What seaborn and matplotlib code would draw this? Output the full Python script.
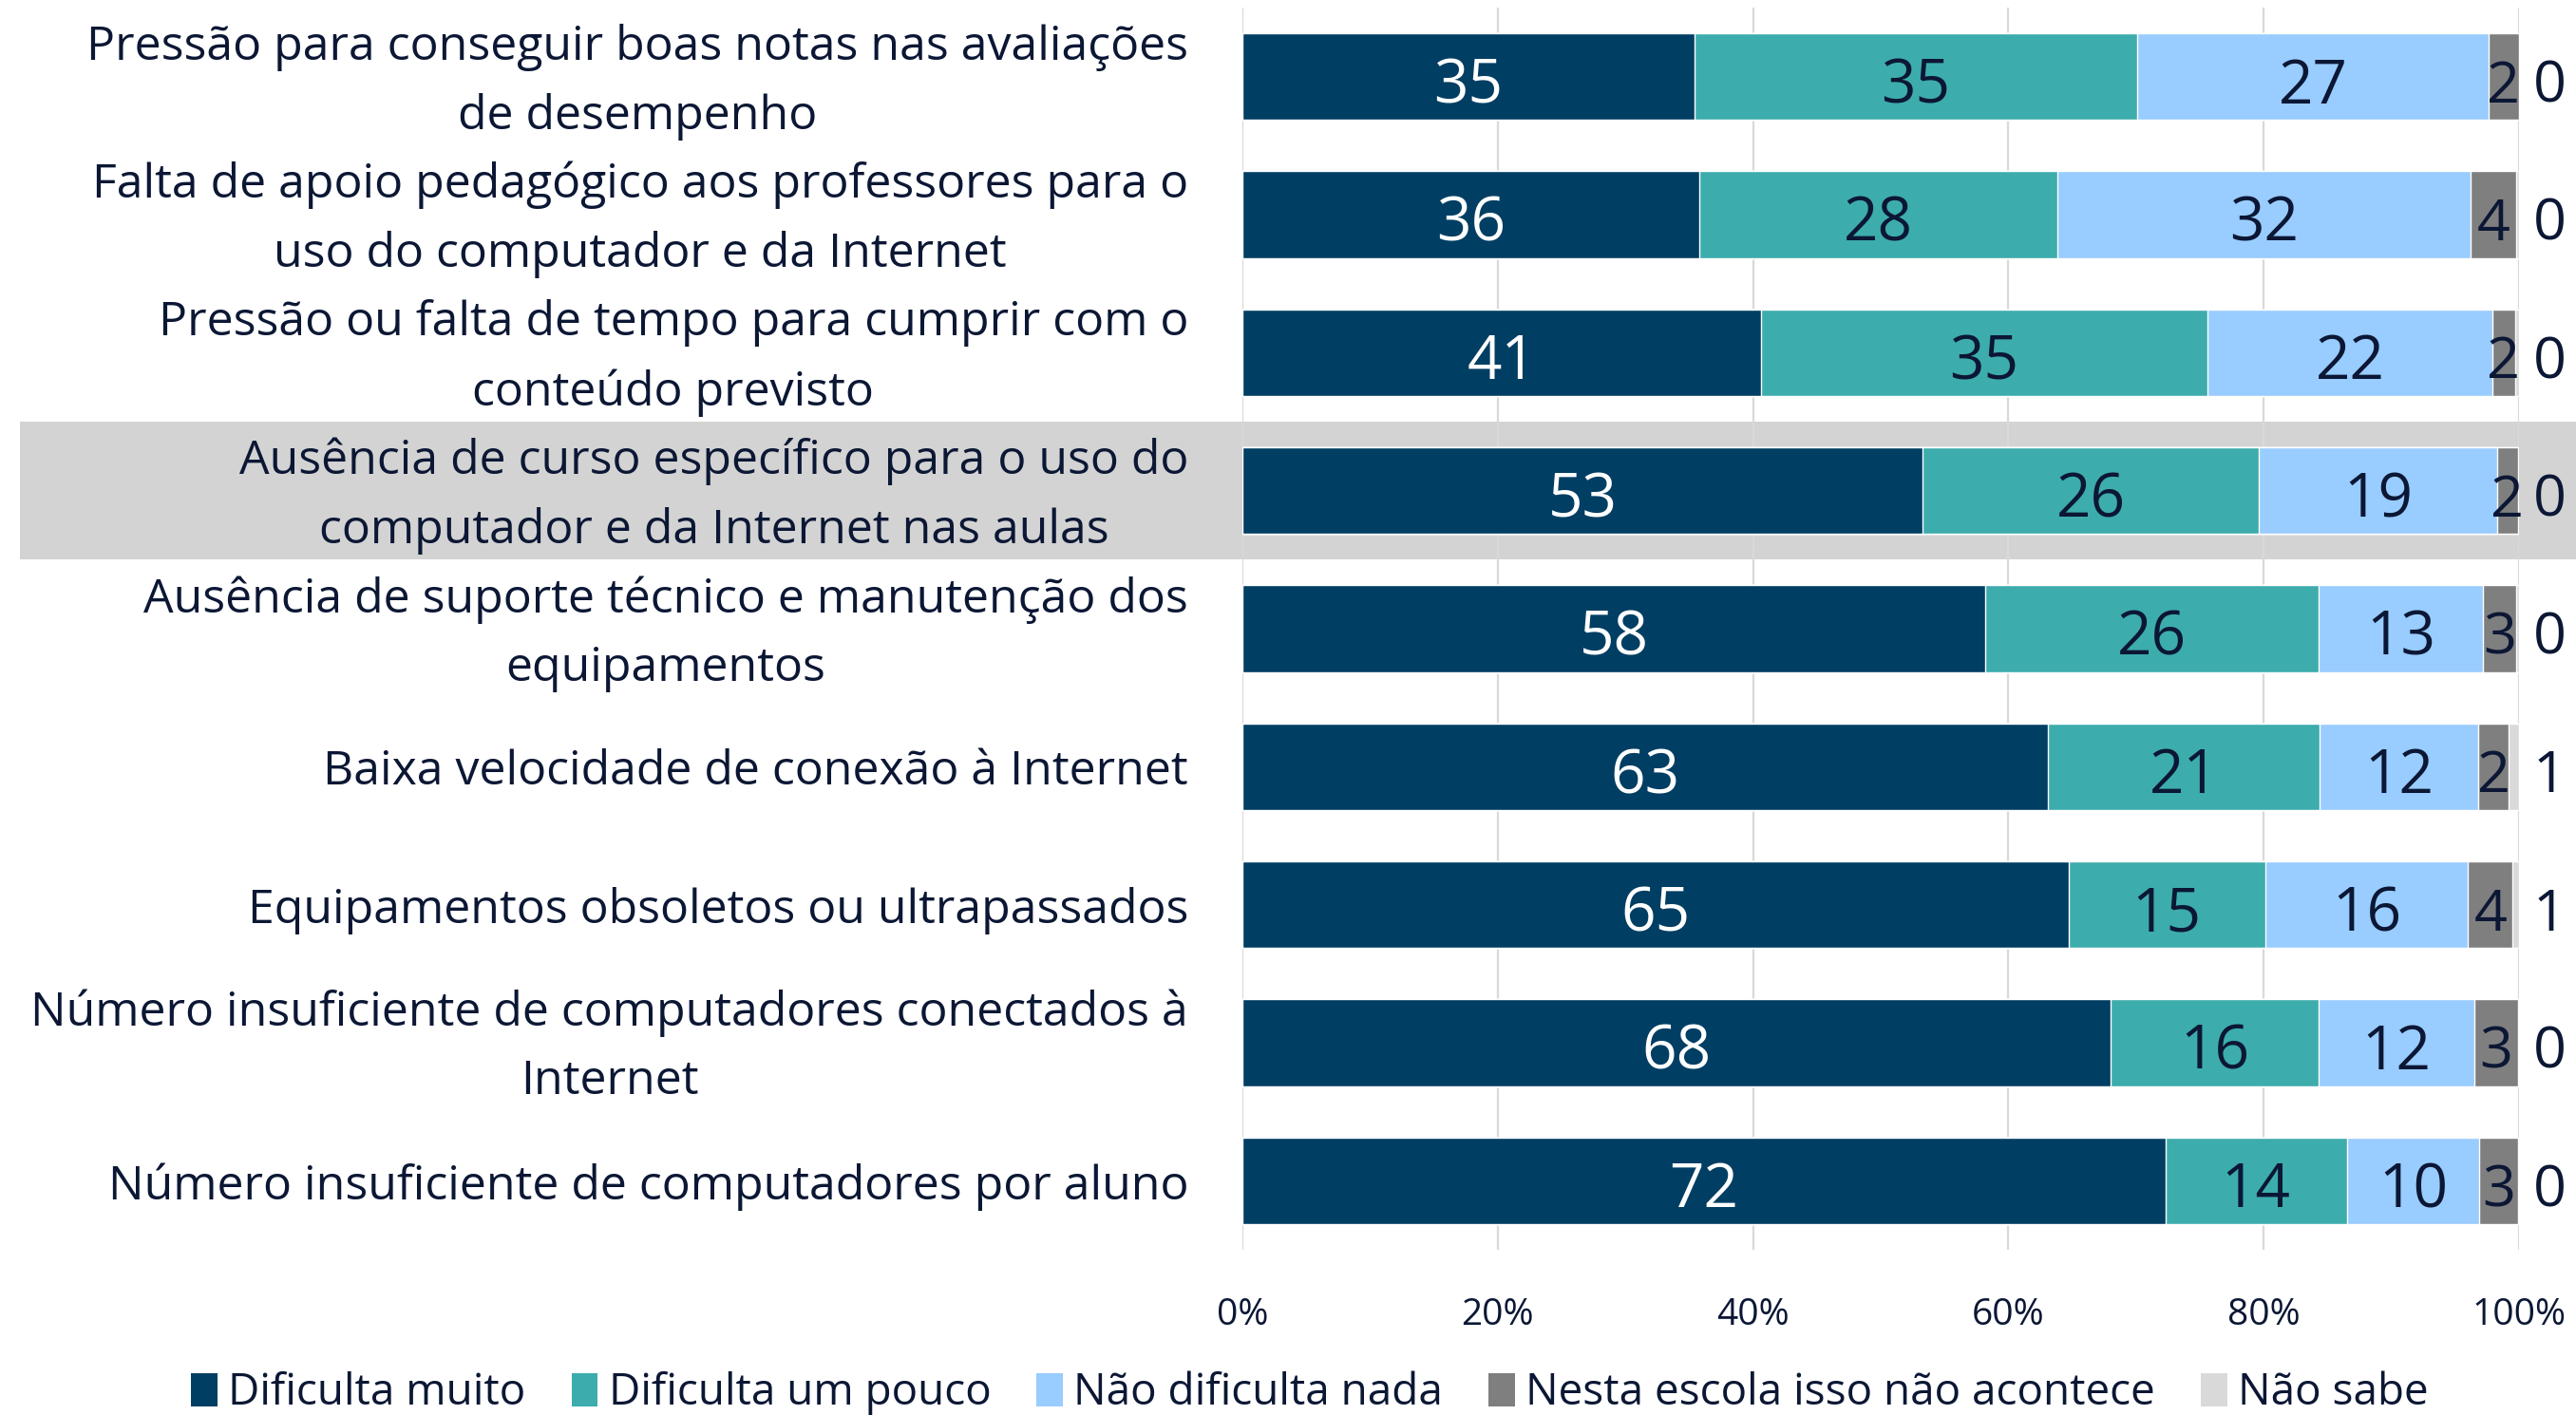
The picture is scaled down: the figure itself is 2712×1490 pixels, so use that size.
import matplotlib
matplotlib.use('Agg')
import numpy as np
import pandas as pd
import seaborn as sns
import matplotlib.pyplot as plt
from matplotlib.patches import Patch, Rectangle
from matplotlib import transforms

# categories (top to bottom)
categories = [
    'Pressão para conseguir boas notas nas avaliações\nde desempenho',
    'Falta de apoio pedagógico aos professores para o\nuso do computador e da Internet',
    'Pressão ou falta de tempo para cumprir com o\nconteúdo previsto',
    'Ausência de curso específico para o uso do\ncomputador e da Internet nas aulas',
    'Ausência de suporte técnico e manutenção dos\nequipamentos',
    'Baixa velocidade de conexão à Internet',
    'Equipamentos obsoletos ou ultrapassados',
    'Número insuficiente de computadores conectados à\nInternet',
    'Número insuficiente de computadores por aluno',
]
series_names = ['Dificulta muito', 'Dificulta um pouco', 'Não dificulta nada',
                'Nesta escola isso não acontece', 'Não sabe']

# segment widths (%)
dificulta_muito = [35.4, 35.8, 40.6, 53.3, 58.2, 63.1, 64.7, 68.0, 72.3]
dificulta_pouco = [34.7, 28.0, 35.0, 26.3, 26.1, 21.3, 15.4, 16.3, 14.2]
nao_dificulta = [27.5, 32.4, 22.3, 18.7, 12.9, 12.4, 15.9, 12.2, 10.4]
nao_acontece = [2.4, 3.6, 1.8, 1.6, 2.6, 2.4, 3.5, 3.4, 3.0]
nao_sabe = [0.0, 0.2, 0.3, 0.1, 0.2, 0.8, 0.5, 0.1, 0.1]

# printed labels
lbl_muito = [35, 36, 41, 53, 58, 63, 65, 68, 72]
lbl_pouco = [35, 28, 35, 26, 26, 21, 15, 16, 14]
lbl_nada = [27, 32, 22, 19, 13, 12, 16, 12, 10]
lbl_acontece = [2, 4, 2, 2, 3, 2, 4, 3, 3]
lbl_sabe = [0, 0, 0, 0, 0, 1, 1, 0, 0]

colors = ['#013E63', '#3DACAC', '#99CCFF', '#7F7F7F', '#D9D9D9']
text_dark = '#0B1734'
highlight = 3

df = pd.DataFrame({
    'cat': categories,
    'Dificulta muito': dificulta_muito,
    'Dificulta um pouco': dificulta_pouco,
    'Não dificulta nada': nao_dificulta,
    'Nesta escola isso não acontece': nao_acontece,
    'Não sabe': nao_sabe,
})
cum = df[series_names].cumsum(axis=1)
labels = [lbl_muito, lbl_pouco, lbl_nada, lbl_acontece, lbl_sabe]

sns.set_style('white')
plt.rcParams['font.family'] = ['Open Sans', 'DejaVu Sans']

fig = plt.figure(figsize=(27.12, 14.9), dpi=100)
ax = fig.add_axes([0.4823, 0.1168, 0.4956, 0.8778])
ax.set_facecolor('none')

# stacked bars: draw cumulative totals from the largest down
for i in range(len(series_names) - 1, -1, -1):
    plot_df = pd.DataFrame({'cat': categories, 'val': cum[series_names[i]]})
    sns.barplot(data=plot_df, x='val', y='cat', color=colors[i], saturation=1,
                width=0.63, orient='h', ax=ax, zorder=2)

# value labels
for i, name in enumerate(series_names):
    for j in range(len(categories)):
        val = df[name][j]
        right = cum[name][j]
        if i == len(series_names) - 1:
            x = 102.4
        else:
            x = right - val / 2
        c = 'white' if i == 0 else text_dark
        ax.text(x, j + 0.075, str(labels[i][j]), ha='center', va='center',
                fontsize=46 if i < 3 else 44, color=c, clip_on=False, zorder=5)

ax.set_xlim(0, 100)
ax.set_ylim(8.5, -0.5)
ax.set_xticks(np.arange(0, 101, 20))
ax.set_xticklabels([f'{v}%' for v in range(0, 101, 20)], fontsize=28, color=text_dark)
ax.xaxis.grid(True, color='#D9D9D9', linewidth=1.6, zorder=0)
ax.yaxis.grid(False)
ax.set_axisbelow(True)
ax.tick_params(axis='x', length=0, pad=36)
ax.tick_params(axis='y', length=0, pad=41)
ax.set_yticks(range(len(categories)))
ax.set_yticklabels(categories, fontsize=36, color=text_dark)
lift = transforms.ScaledTranslation(0, 0.12, fig.dpi_scale_trans)
for t in ax.get_yticklabels():
    t.set_multialignment('center')
    t.set_linespacing(1.6)
    if '\n' in t.get_text():
        t.set_transform(t.get_transform() + lift)
ax.set_xlabel('')
ax.set_ylabel('')
for s in ax.spines.values():
    s.set_visible(False)

# highlighted row band
trans = transforms.blended_transform_factory(fig.transFigure, ax.transData)
band = Rectangle((21 / 2712, highlight - 0.5), 1 - 21 / 2712, 1.0, transform=trans,
                 facecolor='#D3D3D3', edgecolor='none', zorder=-1)
fig.patches.append(band)

handles = [Patch(facecolor=c, edgecolor='none') for c in colors]
leg = fig.legend(handles, series_names, loc='center', bbox_to_anchor=(0.5085, 0.0155),
                 ncol=5, frameon=False, fontsize=33, handlelength=0.6, handleheight=0.8,
                 handletextpad=0.25, columnspacing=1.05, labelcolor=text_dark)

fig.savefig('out.png', dpi=100)
